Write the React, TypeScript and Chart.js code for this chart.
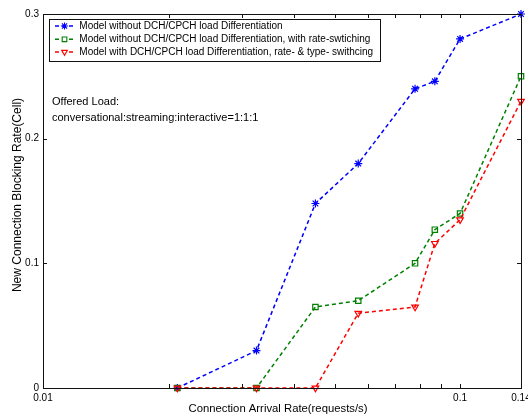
import React, { useEffect, useRef } from 'react';
import { Chart, registerables } from 'chart.js';
import { drawPoint } from 'chart.js/helpers';

Chart.register(...registerables);

// ---- data ----
const arrivalRates = [0.021, 0.0325, 0.045, 0.057, 0.078, 0.087, 0.1, 0.14];
const blockingNoDiff = [0, 0.03, 0.148, 0.18, 0.24, 0.246, 0.28, 0.3];
const blockingRateSwitch = [0, 0, 0.065, 0.07, 0.1, 0.127, 0.14, 0.25];
const blockingDiffSwitch = [0, 0, 0, 0.06, 0.065, 0.116, 0.135, 0.23];

const seriesLabels = [
  'Model without DCH/CPCH load Differentiation',
  'Model without DCH/CPCH load Differentiation, with rate-swtiching',
  'Model with DCH/CPCH load Differentiation, rate- & type- swithcing',
];
const seriesColors = ['#0000ff', '#008000', '#ff0000'];
const seriesMarkers = ['star', 'rect', 'triangle'];
const seriesMarkerRotation = [0, 0, 180];

const xTickValues = [0.01, 0.1, 0.14];
const xTickLabels = ['0.01', '0.1', '0.14'];
const xMinorTicks = [0.02, 0.03, 0.04, 0.05, 0.06, 0.07, 0.08, 0.09, 0.1];
const yTickValues = [0, 0.1, 0.2, 0.3];
const yTickLabels = ['0', '0.1', '0.2', '0.3'];

const xTitle = 'Connection Arrival Rate(requests/s)';
const yTitle = 'New Connection Blocking Rate(Cell)';
const noteLines = ['Offered Load:', 'conversational:streaming:interactive=1:1:1'];

const FONT = '"Liberation Sans", Arial, Helvetica, sans-serif';

const matlabPlugin = {
  id: 'matlabDecor',
  afterDraw(chart: any) {
    const ctx = chart.ctx as CanvasRenderingContext2D;
    const { left, right, top, bottom } = chart.chartArea;
    const xs = chart.scales.x;
    const ys = chart.scales.y;
    ctx.save();
    // box
    ctx.strokeStyle = '#111';
    ctx.lineWidth = 1;
    ctx.setLineDash([]);
    ctx.strokeRect(Math.round(left) + 0.5, Math.round(top) + 0.5, Math.round(right - left), Math.round(bottom - top));
    // ticks
    const tl = 4;
    ctx.beginPath();
    xMinorTicks.forEach((v) => {
      const px = Math.round(xs.getPixelForValue(v)) + 0.5;
      ctx.moveTo(px, bottom);
      ctx.lineTo(px, bottom - tl);
      ctx.moveTo(px, top);
      ctx.lineTo(px, top + tl);
    });
    yTickValues.forEach((v) => {
      const py = Math.round(ys.getPixelForValue(v)) + 0.5;
      ctx.moveTo(left, py);
      ctx.lineTo(left + tl, py);
      ctx.moveTo(right, py);
      ctx.lineTo(right - tl, py);
    });
    ctx.stroke();

    // axis titles
    ctx.fillStyle = '#000';
    ctx.textAlign = 'center';
    ctx.textBaseline = 'middle';
    ctx.font = `11.3px ${FONT}`;
    ctx.fillText(xTitle, 278, 409);
    ctx.save();
    ctx.translate(18, 195);
    ctx.rotate(-Math.PI / 2);
    ctx.font = `12px ${FONT}`;
    ctx.fillText(yTitle, 0, 0);
    ctx.restore();

    // annotation
    ctx.textAlign = 'left';
    ctx.font = `11px ${FONT}`;
    ctx.fillText(noteLines[0], 52, 101.5);
    ctx.fillText(noteLines[1], 52, 117.5);

    // legend
    const lx = 49.5, ly = 19.5, lw = 331, lh = 42;
    ctx.fillStyle = '#fff';
    ctx.fillRect(lx, ly, lw, lh);
    ctx.strokeStyle = '#111';
    ctx.lineWidth = 1;
    ctx.strokeRect(lx, ly, lw, lh);
    const rows = [26, 39.3, 52];
    chart.data.datasets.forEach((ds: any, i: number) => {
      const y = rows[i];
      ctx.strokeStyle = seriesColors[i];
      ctx.lineWidth = 1.4;
      ctx.setLineDash([4, 3]);
      ctx.beginPath();
      ctx.moveTo(55, y);
      ctx.lineTo(74, y);
      ctx.stroke();
      ctx.setLineDash([]);
      ctx.fillStyle = '#fff';
      ctx.lineWidth = 1.1;
      drawPoint(ctx, { pointStyle: seriesMarkers[i], rotation: seriesMarkerRotation[i], radius: i === 0 ? 3.6 : 3.3, borderWidth: 1.1 } as any, 64.5, y);
      ctx.fillStyle = '#000';
      ctx.font = `10px ${FONT}`;
      ctx.textAlign = 'left';
      ctx.textBaseline = 'middle';
      ctx.fillText(ds.label, 79.3, y);
    });
    ctx.restore();
  },
};

export default function App() {
  const ref = useRef<HTMLCanvasElement | null>(null);
  useEffect(() => {
    if (!ref.current) return;
    const series = [blockingNoDiff, blockingRateSwitch, blockingDiffSwitch];
    const chart = new Chart(ref.current, {
      type: 'line',
      data: {
        datasets: series.map((vals, i) => ({
          label: seriesLabels[i],
          data: arrivalRates.map((x, j) => ({ x, y: vals[j] })),
          borderColor: seriesColors[i],
          borderWidth: 1.5,
          borderDash: [4, 3],
          tension: 0,
          fill: false,
          pointStyle: seriesMarkers[i] as any,
          rotation: seriesMarkerRotation[i],
          pointRadius: i === 0 ? 4 : 3.8,
          pointBorderWidth: 1.2,
          pointBorderColor: seriesColors[i],
          pointBackgroundColor: 'rgba(0,0,0,0)',
          clip: false as any,
          order: 2 - i,
        })),
      },
      options: {
        animation: false,
        responsive: false,
        devicePixelRatio: 1,
        layout: { padding: { left: 0, right: 7, top: 14, bottom: 0 } },
        plugins: { legend: { display: false }, tooltip: { enabled: false }, title: { display: false } },
        scales: {
          x: {
            type: 'logarithmic',
            min: 0.01,
            max: 0.14,
            grid: { display: false, drawTicks: false },
            border: { display: false },
            afterBuildTicks: (s: any) => {
              s.ticks = xTickValues.map((v) => ({ value: v }));
            },
            afterFit: (s: any) => {
              s.height = 29;
              s.paddingLeft = 0;
              s.paddingRight = 0;
            },
            ticks: {
              autoSkip: false,
              maxRotation: 0,
              minRotation: 0,
              padding: 4,
              color: '#000',
              font: { family: FONT, size: 10 },
              callback: (v: any) => {
                const idx = xTickValues.findIndex((t) => Math.abs(t - Number(v)) < 1e-9);
                return idx >= 0 ? xTickLabels[idx] : '';
              },
            },
          },
          y: {
            type: 'linear',
            min: 0,
            max: 0.3,
            grid: { display: false, drawTicks: false },
            border: { display: false },
            afterBuildTicks: (s: any) => {
              s.ticks = yTickValues.map((v) => ({ value: v }));
            },
            afterFit: (s: any) => {
              s.width = 43;
              s.paddingTop = 0;
              s.paddingBottom = 0;
            },
            ticks: {
              padding: 4,
              color: '#000',
              font: { family: FONT, size: 10 },
              callback: (v: any) => {
                const idx = yTickValues.findIndex((t) => Math.abs(t - Number(v)) < 1e-9);
                return idx >= 0 ? yTickLabels[idx] : '';
              },
            },
          },
        },
      },
      plugins: [matlabPlugin],
    });
    return () => chart.destroy();
  }, []);
  return (
    <div style={{ position: 'fixed', left: 0, top: 0, width: 528, height: 417, background: '#fff' }}>
      <canvas ref={ref} width={528} height={417} style={{ display: 'block', width: 528, height: 417 }} />
    </div>
  );
}
